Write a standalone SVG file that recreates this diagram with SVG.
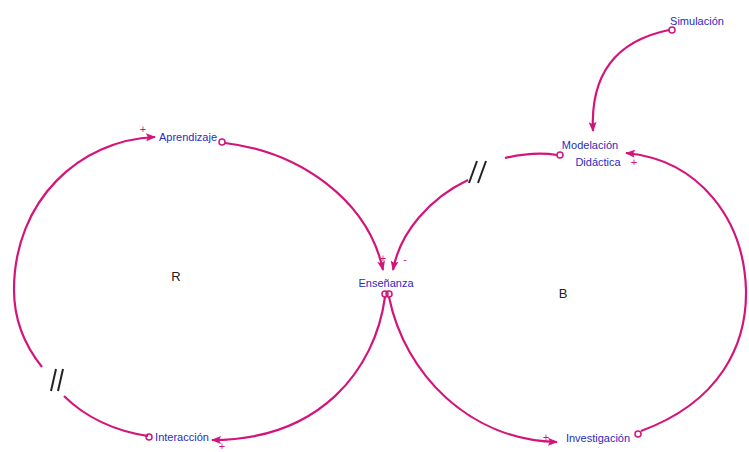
<svg xmlns="http://www.w3.org/2000/svg" width="749" height="452" viewBox="0 0 749 452">
<defs>
<marker id="ah" viewBox="0 0 10 8" refX="9" refY="4" markerWidth="11" markerHeight="8" markerUnits="userSpaceOnUse" orient="auto">
<path d="M0,0 L10,4 L0,8 L2,4 Z" fill="#d4147a"/>
</marker>
</defs>
<style>
.c{fill:none;stroke:#d4147a;stroke-width:2.2}
.o{fill:none;stroke:#d4147a;stroke-width:1.5}
.t{font-family:"Liberation Sans",Arial,sans-serif;font-size:11px;fill:#2b2bc0}
.s{font-family:"Liberation Sans",Arial,sans-serif;font-size:11px;fill:#d4147a}
.m{font-family:"Liberation Sans",Arial,sans-serif;font-size:13px;fill:#222}
.d{stroke:#222;stroke-width:2}
</style>
<rect width="749" height="452" fill="#fff"/>
<g id="connectors">
<path class="c" d="M148,436 C115,431 85,417 64,396"/>
<path class="c" marker-end="url(#ah)" d="M42,367 C22,342 14,315 14,290 C14,200 80,140 155,137"/>
<path class="c" marker-end="url(#ah)" d="M225,143 C300,152 368,200 383,270"/>
<path class="c" marker-end="url(#ah)" d="M385,297 C375,370 320,440 212,440"/>
<path class="c" marker-end="url(#ah)" d="M389,297 C405,375 470,440 557,442"/>
<path class="c" marker-end="url(#ah)" d="M641,431 C720,402 747,345 746,290 C744,220 700,160 626,153"/>
<path class="c" d="M557,155 C540,152 522,154 505,158"/>
<path class="c" marker-end="url(#ah)" d="M468,180 C430,198 400,232 393,270"/>
<path class="c" marker-end="url(#ah)" d="M669,30 C620,40 590,70 593,131"/>
<line class="d" x1="51" y1="391" x2="56" y2="369"/>
<line class="d" x1="58" y1="391" x2="63" y2="369"/>
<line class="d" x1="469" y1="183" x2="477" y2="161"/>
<line class="d" x1="478" y1="183" x2="486" y2="161"/>
<text class="s" x="143" y="133" text-anchor="middle">+</text>
<text class="s" x="383" y="262" text-anchor="middle">+</text>
<text class="s" x="405" y="263" text-anchor="middle">-</text>
<text class="s" x="222" y="450" text-anchor="middle" font-size="10">+</text>
<text class="s" x="546" y="441" text-anchor="middle">+</text>
<text class="s" x="634" y="166" text-anchor="middle">+</text>
</g>
<g id="simulacion">
<circle class="o" cx="672" cy="30" r="3"/>
<text class="t" x="697" y="25" text-anchor="middle">Simulación</text>
</g>
<g id="modelacion">
<circle class="o" cx="560" cy="155" r="3"/>
<text class="t" x="590" y="149" text-anchor="middle">Modelación</text>
<text class="t" x="598" y="166" text-anchor="middle">Didáctica</text>
</g>
<g id="aprendizaje">
<circle class="o" cx="222" cy="142" r="3"/>
<text class="t" x="188" y="141" text-anchor="middle">Aprendizaje</text>
</g>
<g id="ensenanza">
<circle class="o" cx="385" cy="294" r="3"/>
<circle class="o" cx="389" cy="294" r="3"/>
<text class="t" x="386" y="287" text-anchor="middle">Enseñanza</text>
</g>
<g id="interaccion">
<circle class="o" cx="149" cy="437" r="3"/>
<text class="t" x="182" y="441" text-anchor="middle">Interacción</text>
</g>
<g id="investigacion">
<circle class="o" cx="638" cy="434" r="3"/>
<text class="t" x="598" y="442" text-anchor="middle">Investigación</text>
</g>
<g id="R"><text class="m" x="176" y="281" text-anchor="middle">R</text></g>
<g id="B"><text class="m" x="563" y="298" text-anchor="middle">B</text></g>
</svg>
